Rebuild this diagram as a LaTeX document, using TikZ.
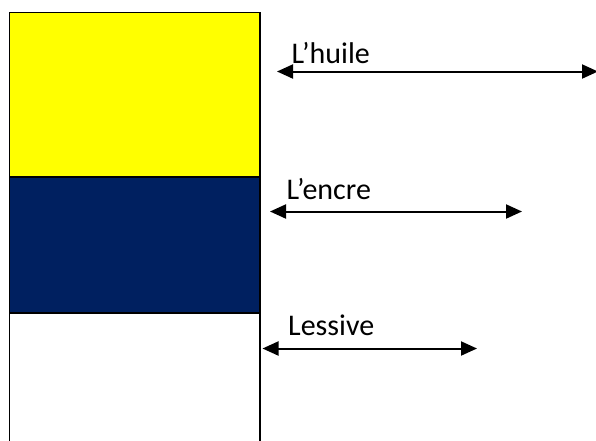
\documentclass[tikz,border=0pt]{standalone}
\usepackage{fontspec}
\setmainfont{Carlito}
\usetikzlibrary{arrows.meta}

\definecolor{huile}{HTML}{FFFF00}
\definecolor{encre}{HTML}{002060}

\begin{document}
\begin{tikzpicture}[x=1pt, y=-1pt,
    layer/.style={draw=black, line width=1.5pt},
    level/.style={{Triangle[length=16pt,width=14pt]}-{Triangle[length=16pt,width=14pt]}, line width=2pt},
    label/.style={anchor=base west, inner sep=0pt, font=\fontsize{30}{32}\selectfont}]

    \useasboundingbox (0,0) rectangle (596,440);

    %% Tube with three layers

    % Oil
    \draw[layer, fill=huile] (9.5,12.5) rectangle (260,177);
    % Ink
    \draw[layer, fill=encre] (9.5,177) rectangle (260,313);
    % Detergent
    \draw[layer, fill=white] (9.5,313) rectangle (260,445);

    %% Levels

    % Oil level
    \coordinate (h1) at (277,71.5);
    \coordinate (h2) at (598,71.5);
    \draw[level] (h1) -- (h2);
    \node[label] (huile) at (291.5,63) {L’huile};

    % Ink level
    \coordinate (e1) at (270,211.5);
    \coordinate (e2) at (522,211.5);
    \draw[level] (e1) -- (e2);
    \node[label] (encre) at (286.5,199.5) {L’encre};

    % Detergent level
    \coordinate (l1) at (262.5,348.5);
    \coordinate (l2) at (477,348.5);
    \draw[level] (l1) -- (l2);
    \node[label] (lessive) at (288,335) {Lessive};

\end{tikzpicture}
\end{document}
